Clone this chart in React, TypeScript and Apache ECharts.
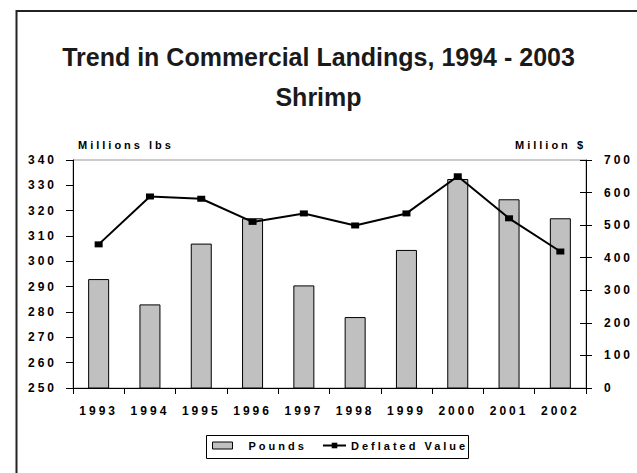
import React, { useEffect, useRef } from "react";
import * as echarts from "echarts";

const years = ["1993", "1994", "1995", "1996", "1997", "1998", "1999", "2000", "2001", "2002"];
const pounds = [293, 283, 307, 317, 290.5, 278, 304.5, 332.5, 324.5, 317];
const deflatedValue = [441, 588, 581, 510, 536, 499, 536, 650, 521, 419];

const leftMin = 250;
const leftMax = 340;
const leftInterval = 10;
const rightMin = 0;
const rightMax = 700;
const rightInterval = 100;

const titleText = "Trend in Commercial Landings, 1994 - 2003";
const subTitleText = "Shrimp";
const leftAxisName = "Millions lbs";
const rightAxisName = "Million $";
const seriesNames = ["Pounds", "Deflated Value"];

export default function App() {
  const ref = useRef<HTMLDivElement>(null);

  useEffect(() => {
    const chart = echarts.init(ref.current!, null, { renderer: "svg" });
    const spaced = "Liberation Sans, sans-serif";
    const titleFont = "Liberation Sans";
    const tickLabel = {
      fontSize: 12,
      fontWeight: "bold",
      fontFamily: spaced,
      color: "#000",
    };
    const nameStyle = {
      fontSize: 11,
      fontWeight: "bold",
      fontFamily: spaced,
      color: "#000",
      verticalAlign: "middle",
    };
    chart.setOption({
      animation: false,
      backgroundColor: "#fff",
      title: [
        {
          text: titleText,
          left: "center",
          top: 44,
          padding: 0,
          textStyle: { fontSize: 25, fontWeight: "bold", fontFamily: titleFont, color: "#1a1a1a" },
        },
        {
          text: subTitleText,
          left: "center",
          top: 84,
          padding: 0,
          textStyle: { fontSize: 25, fontWeight: "bold", fontFamily: titleFont, color: "#1a1a1a" },
        },
      ],
      grid: {
        left: 73,
        right: 51,
        top: 160,
        bottom: 85,
        show: true,
        borderColor: "#999",
        borderWidth: 1,
        backgroundColor: "#fff",
      },
      legend: [
        {
          data: [seriesNames[0]],
          left: 212,
          top: 440,
          padding: 0,
          itemWidth: 20,
          itemHeight: 7,
          selectedMode: false,
          icon: "rect",
          itemStyle: { borderColor: "#000", borderWidth: 1 },
          textStyle: { fontSize: 11, fontWeight: "bold", fontFamily: spaced, color: "#000", padding: [0, 0, 0, 11] },
        },
        {
          data: [seriesNames[1]],
          left: 322,
          top: 440,
          padding: 0,
          itemWidth: 23,
          itemHeight: 7,
          selectedMode: false,
          textStyle: { fontSize: 11, fontWeight: "bold", fontFamily: spaced, color: "#000" },
        },
      ],
      xAxis: {
        type: "category",
        data: years,
        boundaryGap: true,
        axisLine: { show: true, lineStyle: { color: "#000", width: 1 } },
        axisTick: { show: true, length: 6, alignWithLabel: false, lineStyle: { color: "#000" } },
        axisLabel: { ...tickLabel, margin: 17 },
        splitLine: { show: false },
      },
      yAxis: [
        {
          type: "value",
          min: leftMin,
          max: leftMax,
          interval: leftInterval,
          position: "left",
          name: leftAxisName,
          nameLocation: "end",
          nameGap: 15,
          nameTextStyle: { ...nameStyle, align: "left", padding: [0, 0, 0, 5] },
          axisLine: { show: true, lineStyle: { color: "#000", width: 1 } },
          axisTick: { show: true, length: 7, lineStyle: { color: "#000" } },
          axisLabel: { ...tickLabel, margin: 16 },
          splitLine: { show: false },
        },
        {
          type: "value",
          min: rightMin,
          max: rightMax,
          interval: rightInterval,
          position: "right",
          name: rightAxisName,
          nameLocation: "end",
          nameGap: 15,
          nameTextStyle: { ...nameStyle, align: "right", padding: [0, 0, 0, 0] },
          axisLine: { show: true, lineStyle: { color: "#000", width: 1 } },
          axisTick: { show: true, length: 6, lineStyle: { color: "#000" } },
          axisLabel: { ...tickLabel, margin: 18 },
          splitLine: { show: false },
        },
        {
          type: "value",
          min: rightMin,
          max: rightMax,
          interval: rightInterval,
          position: "right",
          axisLine: { show: false },
          axisTick: { show: true, inside: true, length: 6, lineStyle: { color: "#000" } },
          axisLabel: { show: false },
          splitLine: { show: false },
        },
      ],
      series: [
        {
          name: seriesNames[0],
          type: "bar",
          yAxisIndex: 0,
          data: pounds,
          barWidth: 21,
          itemStyle: { color: "#c0c0c0", borderColor: "#000", borderWidth: 1 },
        },
        {
          name: seriesNames[1],
          type: "line",
          yAxisIndex: 1,
          data: deflatedValue,
          symbol: "rect",
          symbolSize: [8, 6],
          lineStyle: { color: "#000", width: 2 },
          itemStyle: { color: "#000" },
        },
      ],
      graphic: [
        {
          type: "rect",
          shape: { x: 16.5, y: 11, width: 700, height: 500 },
          style: { fill: "none", stroke: "#222", lineWidth: 2 },
          silent: true,
        },
        {
          type: "rect",
          shape: { x: 206.5, y: 435.5, width: 262, height: 23 },
          style: { fill: "none", stroke: "#000", lineWidth: 1 },
          silent: true,
        },
      ],
    });
    return () => chart.dispose();
  }, []);

  return (
    <>
      <style>{`#chart text[style*="sans-serif"]{letter-spacing:3px;}`}</style>
      <div
        id="chart"
        ref={ref}
        style={{ position: "absolute", left: 0, top: 0, width: 637, height: 473, background: "#fff" }}
      />
    </>
  );
}
